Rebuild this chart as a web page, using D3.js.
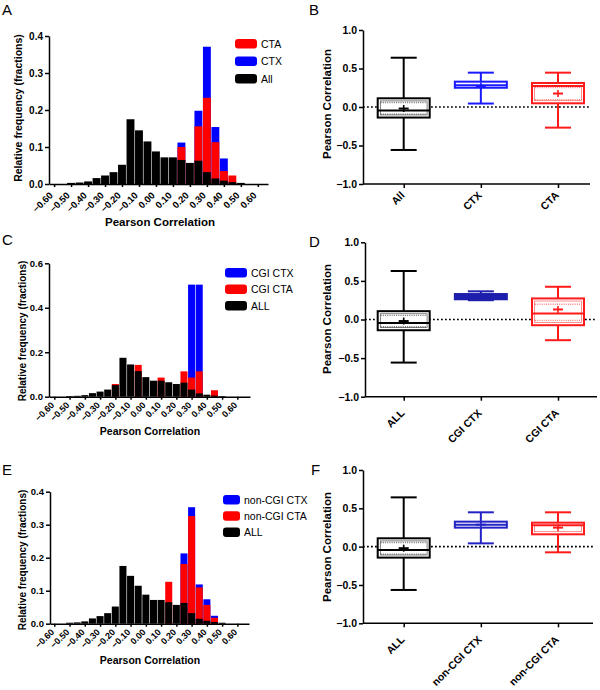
<!DOCTYPE html>
<html><head><meta charset="utf-8">
<script src="https://cdn.jsdelivr.net/npm/d3@7"></script>
<style>
body{margin:0;background:#fff}
svg{display:block}
text{font-family:"Liberation Sans",Arial,sans-serif}
</style>
</head><body>
<svg id="c" width="600" height="690"></svg>
<script>
// ---------- DATA ----------
const binCenters = [-0.50,-0.45,-0.40,-0.35,-0.30,-0.25,-0.20,-0.15,-0.10,-0.05,0.00,0.05,0.10,0.15,0.20,0.25,0.30,0.35,0.40,0.45,0.50];
const histTicks = [-0.60,-0.50,-0.40,-0.30,-0.20,-0.10,0.00,0.10,0.20,0.30,0.40,0.50,0.60];

const allFreq    = [0.003,0.004,0.007,0.016,0.023,0.032,0.052,0.175,0.145,0.115,0.088,0.072,0.072,0.065,0.057,0.063,0.032,0.015,0.009,0.005,0.003];
// Panel A
const ctaFreqA   = [0,0,0,0,0,0,0,0,0,0,0,0,0,0.100,0,0.156,0.233,0.113,0.035,0.023,0];
const ctxFreqA   = [0,0,0,0,0,0,0,0,0,0,0,0,0,0.112,0,0.198,0.371,0.154,0.069,0,0];
// Panel C
const cgiCtxFreq = [0,0,0,0,0,0,0,0,0,0,0,0,0,0,0,0,0.504,0.504,0,0,0];
const cgiCtaFreq = [0,0,0,0,0,0,0.057,0,0,0.143,0,0,0.086,0,0,0.114,0.086,0.114,0,0.029,0];
// Panel E
const nonCgiCtxFreq = [0,0,0,0,0,0,0,0,0,0,0,0,0,0,0,0.213,0.353,0.119,0.074,0.024,0];
const nonCgiCtaFreq = [0,0,0,0,0,0,0,0,0,0,0,0,0,0.127,0,0.181,0.326,0.110,0.057,0.018,0];

const ticksA = [0,0.1,0.2,0.3,0.4];
const ticksC = [0,0.2,0.4,0.6];
const ticksE = [0,0.1,0.2,0.3,0.4];
const boxTicks = [-1.0,-0.5,0.0,0.5,1.0];

// Panel B
const catsB = ["All","CTX","CTA"];
const minB  = [-0.558, 0.045, -0.268];
const q1B   = [-0.137, 0.250, 0.048];
const medB  = [-0.045, 0.282, 0.273];
const q3B   = [ 0.113, 0.329, 0.312];
const maxB  = [ 0.640, 0.446, 0.446];
const meanB = [-0.020, 0.272, 0.175];
// Panel D
const catsD = ["ALL","CGI CTX","CGI CTA"];
const minD  = [-0.558, 0.250, -0.268];
const q1D   = [-0.139, 0.262, -0.074];
const medD  = [-0.045, 0.295, 0.078];
const q3D   = [ 0.108, 0.330, 0.273];
const maxD  = [ 0.628, 0.365, 0.424];
const meanD = [-0.020, 0.300, 0.130];
// Panel F
const catsF = ["ALL","non-CGI CTX","non-CGI CTA"];
const minF  = [-0.565, 0.043, -0.074];
const q1F   = [-0.143, 0.248, 0.161];
const medF  = [-0.043, 0.287, 0.278];
const q3F   = [ 0.109, 0.326, 0.313];
const maxF  = [ 0.643, 0.448, 0.448];
const meanF = [-0.020, 0.287, 0.248];

// ---------- DRAW ----------
const svg = d3.select("#c");
const RED = "#ff0000", BLUE = "#0000ff", BLACK = "#000000";

function letter(t, x, y){
  svg.append("text").attr("x",x).attr("y",y).attr("font-size",15).text(t);
}

function histPanel(cfg){
  const g = svg.append("g");
  const x = d3.scaleLinear().domain(cfg.xDomain).range([cfg.left, cfg.right]);
  const y = d3.scaleLinear().domain([0, cfg.yMax]).range([cfg.bottom, cfg.top]);
  const bw = x(0.05) - x(0);
  cfg.series.forEach(s => {
    const d = binCenters.map((c,i)=>({c:c, v:s.values[i]})).filter(e=>e.v>0);
    g.append("g").selectAll("rect").data(d).enter().append("rect")
      .attr("x", e=>x(e.c)-bw/2+0.3).attr("width", bw-0.6)
      .attr("y", e=>y(e.v)).attr("height", e=>y(0)-y(e.v))
      .attr("fill", s.color);
  });
  const ya = g.append("g").attr("transform",`translate(${cfg.left},0)`)
    .call(d3.axisLeft(y).tickValues(cfg.yTicks).tickFormat(d3.format(".1f")).tickSize(4).tickSizeOuter(0).tickPadding(2));
  ya.selectAll("text").attr("font-size",cfg.tickFont+0.5).attr("font-weight","bold").attr("font-family","Liberation Sans, Arial, sans-serif");
  const xa = g.append("g").attr("transform",`translate(0,${cfg.bottom})`)
    .call(d3.axisBottom(x).tickValues(histTicks).tickFormat(d3.format(".2f")).tickSize(3).tickSizeOuter(0));
  xa.selectAll("text").attr("font-size",cfg.tickFont).attr("font-weight","bold")
    .attr("font-family","Liberation Sans, Arial, sans-serif")
    .attr("x",0).attr("y",0).attr("dy",0)
    .attr("transform",`translate(${cfg.lblDx},${cfg.lblDy}) rotate(-45)`).style("text-anchor","end");
  [ya,xa].forEach(a=>{a.selectAll("path,line").attr("stroke","#000").attr("stroke-width",1.5);});
  g.append("text").attr("transform",`translate(${cfg.yTitleX},${cfg.yTitleY}) rotate(-90)`)
    .attr("text-anchor","middle").attr("font-size",cfg.titleFont).attr("font-weight","bold")
    .text("Relative frequency (fractions)");
  g.append("text").attr("x",cfg.xTitleX).attr("y",cfg.xTitleY)
    .attr("text-anchor","middle").attr("font-size",cfg.xTitleFont).attr("font-weight","bold")
    .text("Pearson Correlation");
  cfg.legend.forEach((l,i)=>{
    const ly = cfg.legY + i*cfg.legStep;
    g.append("rect").attr("x",cfg.legX).attr("y",ly).attr("width",cfg.legW).attr("height",9.5)
      .attr("rx",3).attr("fill",l.color);
    g.append("text").attr("x",cfg.legX+cfg.legW+4).attr("y",ly+8.5).attr("font-size",10.5).text(l.name);
  });
}

function boxPanel(cfg){
  const g = svg.append("g");
  const x = d3.scalePoint().domain(cfg.cats).range([403.7, 558]);
  const y = d3.scaleLinear().domain([-1,1]).range([cfg.bottom, cfg.top]);
  g.append("line").attr("x1",cfg.left).attr("x2",cfg.right).attr("y1",y(0)).attr("y2",y(0))
    .attr("stroke","#000").attr("stroke-width",1.6).attr("stroke-dasharray","1.8,2.2");
  const bw = 52, cw = 26;
  cfg.cats.forEach((c,i)=>{
    const cx = x(c), col = cfg.colors[i];
    const gb = g.append("g");
    gb.append("line").attr("x1",cx).attr("x2",cx).attr("y1",y(cfg.max[i])).attr("y2",y(cfg.q3[i]))
      .attr("stroke",col).attr("stroke-width",2);
    gb.append("line").attr("x1",cx).attr("x2",cx).attr("y1",y(cfg.q1[i])).attr("y2",y(cfg.min[i]))
      .attr("stroke",col).attr("stroke-width",2);
    [cfg.max[i], cfg.min[i]].forEach(v=>{
      gb.append("line").attr("x1",cx-cw/2).attr("x2",cx+cw/2).attr("y1",y(v)).attr("y2",y(v))
        .attr("stroke",col).attr("stroke-width",2);
    });
    const top = y(cfg.q3[i]), bot = y(cfg.q1[i]);
    const solid = cfg.solid[i];
    gb.append("rect").attr("x",cx-bw/2).attr("y",top).attr("width",bw).attr("height",bot-top)
      .attr("fill", solid ? col : "#fff").attr("stroke",col).attr("stroke-width",2);
    if(!solid){
      if(bot-top > 7){
        gb.append("rect").attr("x",cx-bw/2+2.6).attr("y",top+2.6).attr("width",bw-5.2).attr("height",bot-top-5.2)
          .attr("fill","none").attr("stroke",col).attr("stroke-width",0.7).attr("stroke-opacity",0.7);
        if(cfg.dots[i]){
          [0.22,0.82].forEach(f=>{
            const yy = top + (bot-top)*f;
            gb.append("line").attr("x1",cx-bw/2+3).attr("x2",cx+bw/2-3).attr("y1",yy).attr("y2",yy)
              .attr("stroke",col).attr("stroke-width",1.4).attr("stroke-dasharray","1,1.2").attr("stroke-opacity",0.55);
          });
        }
      } else {
        gb.append("line").attr("x1",cx-bw/2+2).attr("x2",cx+bw/2-2).attr("y1",(top+bot)/2-1).attr("y2",(top+bot)/2-1)
          .attr("stroke","#fff").attr("stroke-width",0.9);
      }
    }
    gb.append("line").attr("x1",cx-bw/2).attr("x2",cx+bw/2).attr("y1",y(cfg.med[i])).attr("y2",y(cfg.med[i]))
      .attr("stroke",col).attr("stroke-width",2);
    const my = y(cfg.mean[i]);
    gb.append("line").attr("x1",cx-5).attr("x2",cx+5).attr("y1",my).attr("y2",my).attr("stroke",col).attr("stroke-width",2);
    gb.append("line").attr("x1",cx).attr("x2",cx).attr("y1",my-3.5).attr("y2",my+3.5).attr("stroke",col).attr("stroke-width",1.6);
  });
  const ya = g.append("g").attr("transform",`translate(${cfg.left},0)`)
    .call(d3.axisLeft(y).tickValues(boxTicks).tickFormat(d3.format(".1f")).tickSize(4).tickSizeOuter(0).tickPadding(2));
  ya.selectAll("text").attr("font-size",10.5).attr("font-weight","bold").attr("font-family","Liberation Sans, Arial, sans-serif");
  const xa = g.append("g").attr("transform",`translate(0,${cfg.bottom})`);
  xa.append("line").attr("x1",cfg.left).attr("x2",cfg.right).attr("y1",0).attr("y2",0).attr("stroke","#000").attr("stroke-width",1.5);
  xa.call(d3.axisBottom(x).tickSize(4).tickSizeOuter(0));
  xa.select("path.domain").remove();
  xa.selectAll("text").attr("font-size",10.5).attr("font-weight","bold").attr("font-family","Liberation Sans, Arial, sans-serif")
    .attr("x",0).attr("y",0).attr("dy",0)
    .attr("transform",`translate(1,${cfg.lblDy}) rotate(-45)`).style("text-anchor","end");
  [ya,xa].forEach(a=>{a.selectAll("path,line").attr("stroke","#000").attr("stroke-width",1.5);});
  g.append("text").attr("transform",`translate(${cfg.yTitleX},${cfg.yTitleY}) rotate(-90)`)
    .attr("text-anchor","middle").attr("font-size",11.5).attr("font-weight","bold").text("Pearson Correlation");
}

// A
histPanel({left:49,right:268,top:36,bottom:184,xDomain:[-0.63,0.66],yMax:0.4,yTicks:ticksA,
  tickFont:9.5,titleFont:10.5,xTitleFont:11.5,lblDx:-1,lblDy:12,
  yTitleX:22,yTitleY:108,xTitleX:160,xTitleY:226,
  series:[{values:ctxFreqA,color:BLUE},{values:ctaFreqA,color:RED},{values:allFreq,color:BLACK}],
  legend:[{name:"CTA",color:RED},{name:"CTX",color:BLUE},{name:"All",color:BLACK}],
  legX:235,legY:39,legStep:17.5,legW:22});
// C
histPanel({left:49,right:250,top:263.3,bottom:396.7,xDomain:[-0.635,0.683],yMax:0.6,yTicks:ticksC,
  tickFont:9,titleFont:10,xTitleFont:10.5,lblDx:0,lblDy:9,
  yTitleX:26,yTitleY:331,xTitleX:150,xTitleY:435,
  series:[{values:cgiCtxFreq,color:BLUE},{values:cgiCtaFreq,color:RED},{values:allFreq,color:BLACK}],
  legend:[{name:"CGI CTX",color:BLUE},{name:"CGI CTA",color:RED},{name:"ALL",color:BLACK}],
  legX:225,legY:268,legStep:16.5,legW:22});
// E
histPanel({left:50,right:249,top:491.7,bottom:623.7,xDomain:[-0.628,0.676],yMax:0.4,yTicks:ticksE,
  tickFont:9,titleFont:10,xTitleFont:10.5,lblDx:0,lblDy:9,
  yTitleX:26,yTitleY:560,xTitleX:150,xTitleY:664,
  series:[{values:nonCgiCtxFreq,color:BLUE},{values:nonCgiCtaFreq,color:RED},{values:allFreq,color:BLACK}],
  legend:[{name:"non-CGI CTX",color:BLUE},{name:"non-CGI CTA",color:RED},{name:"ALL",color:BLACK}],
  legX:223,legY:495,legStep:16.3,legW:17});

// B
boxPanel({left:363,right:590,top:30,bottom:184,cats:catsB,min:minB,q1:q1B,med:medB,q3:q3B,max:maxB,mean:meanB,
  colors:["#000","#1a1aff","#ff1a1a"],solid:[false,false,false],dots:[true,false,true],
  lblDy:12,yTitleX:331,yTitleY:104});
// D
boxPanel({left:365,right:597,top:242.3,bottom:396.7,cats:catsD,min:minD,q1:q1D,med:medD,q3:q3D,max:maxD,mean:meanD,
  colors:["#000","#1f1fae","#ff1a1a"],solid:[false,true,false],dots:[true,false,true],
  lblDy:17,yTitleX:331,yTitleY:319});
// F
boxPanel({left:363,right:593,top:470,bottom:623.3,cats:catsF,min:minF,q1:q1F,med:medF,q3:q3F,max:maxF,mean:meanF,
  colors:["#000","#2424c4","#ff1a1a"],solid:[false,false,false],dots:[true,false,false],
  lblDy:17,yTitleX:331,yTitleY:547});

letter("A",2,15); letter("B",309,15);
letter("C",2,245); letter("D",309,247);
letter("E",2,475); letter("F",311,475);
</script>
</body></html>
